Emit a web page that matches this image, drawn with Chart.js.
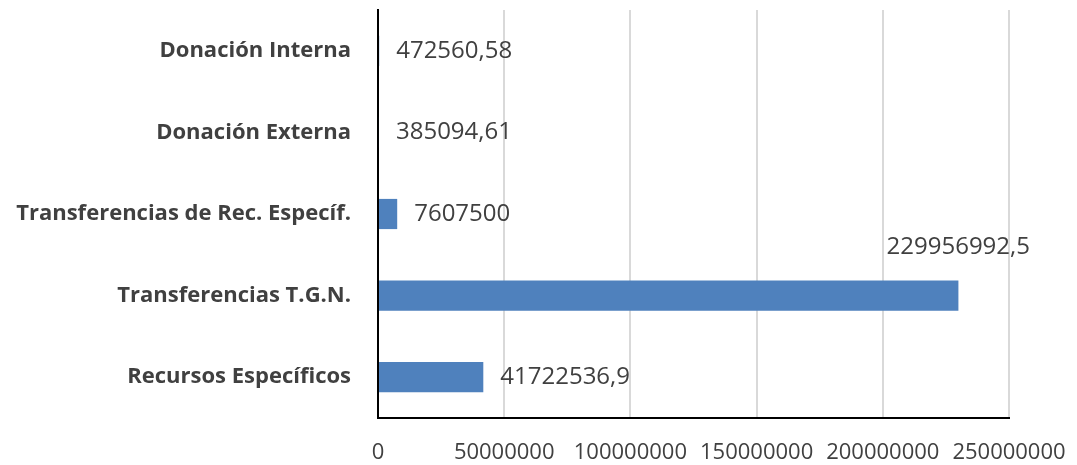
<!DOCTYPE html>
<html>
<head>
<meta charset="utf-8">
<script src="https://cdn.jsdelivr.net/npm/chart.js@4"></script>
<style>
  html, body { margin: 0; padding: 0; background: #fff; }
  #wrap { width: 1077px; height: 465px; }
</style>
</head>
<body>
<div id="wrap"><canvas id="chart"></canvas></div>
<script>
// Data
const categories = ['Donación Interna', 'Donación Externa', 'Transferencias de Rec. Específ.', 'Transferencias T.G.N.', 'Recursos Específicos'];
const values = [472560.58, 385094.61, 7607500, 229956992.5, 41722536.9];
const xTicks = [0, 50000000, 100000000, 150000000, 200000000, 250000000];

const textColor = '#404040';

// value labels next to the bar ends (comma decimal like the original)
const valueLabels = {
    id: 'valueLabels',
    afterDatasetsDraw(chart) {
        const ctx = chart.ctx;
        const area = chart.chartArea;
        const meta = chart.getDatasetMeta(0);
        ctx.save();
        ctx.font = '24px "Open Sans"';
        ctx.fillStyle = textColor;
        ctx.textBaseline = 'middle';
        meta.data.forEach((bar, i) => {
            const txt = String(values[i]).replace('.', ',');
            const w = ctx.measureText(txt).width;
            if (bar.x + 17 + w > area.right) {
                // no room on the right: put it above the bar end
                ctx.textAlign = 'right';
                ctx.fillText(txt, area.right + 21, bar.y - 48);
            } else {
                ctx.textAlign = 'left';
                ctx.fillText(txt, bar.x + 17, bar.y);
            }
        });
        ctx.restore();
    }
};

new Chart(document.getElementById('chart').getContext('2d'), {
    type: 'bar',
    data: {
        labels: categories,
        datasets: [{
            data: values,
            backgroundColor: '#4F81BD',
            borderWidth: 0,
            categoryPercentage: 1,
            barPercentage: 0.37
        }]
    },
    options: {
        indexAxis: 'y',
        responsive: true,
        maintainAspectRatio: false,
        animation: false,
        layout: { padding: { top: 10, right: 68, left: 0, bottom: 0 } },
        plugins: { legend: { display: false }, tooltip: { enabled: false } },
        scales: {
            x: {
                min: 0,
                max: 250000000,
                afterBuildTicks: (scale) => { scale.ticks = xTicks.map(v => ({ value: v })); },
                afterFit: (scale) => {
                    scale.height = 47;
                    scale.paddingLeft = 0;
                    scale.paddingRight = 0;
                },
                grid: { color: '#d9d9d9', lineWidth: 2, drawTicks: false },
                border: { display: true, color: '#000', width: 2 },
                ticks: {
                    color: textColor,
                    font: { family: 'Open Sans', size: 22 },
                    padding: 22,
                    maxRotation: 0,
                    autoSkip: false,
                    callback: (v) => String(v)
                }
            },
            y: {
                afterFit: (scale) => {
                    scale.width = 378;
                    scale.paddingTop = 0;
                    scale.paddingBottom = 0;
                },
                grid: { display: false, drawTicks: false },
                border: { display: true, color: '#000', width: 2 },
                ticks: {
                    color: textColor,
                    font: { family: 'Open Sans', size: 22, weight: 'bold' },
                    padding: 27
                }
            }
        }
    },
    plugins: [valueLabels]
});
</script>
</body>
</html>
